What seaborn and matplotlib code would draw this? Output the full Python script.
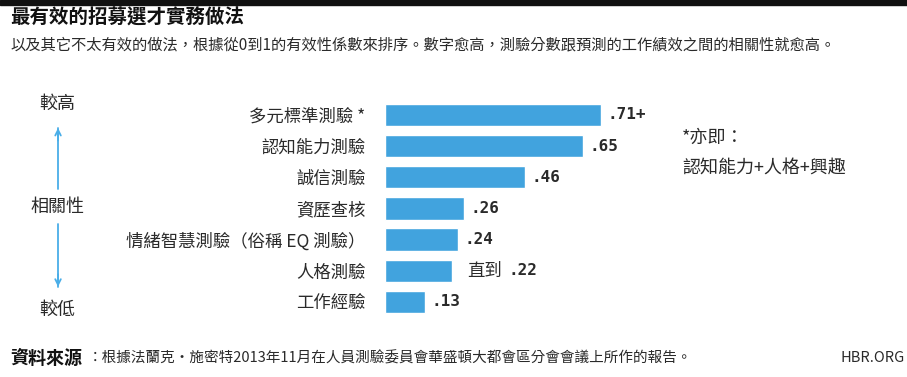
import pandas as pd
import seaborn as sns
import matplotlib.pyplot as plt

# Data
methods = ['多元標準測驗 *', '認知能力測驗', '誠信測驗', '資歷查核',
           '情緒智慧測驗（俗稱 EQ 測驗）', '人格測驗', '工作經驗']
validity = [0.71, 0.65, 0.46, 0.26, 0.24, 0.22, 0.13]
value_text = ['.71+', '.65', '.46', '.26', '.24', '.22', '.13']
value_prefix = ['', '', '', '', '', '直到', '']

df = pd.DataFrame({'method': methods, 'validity': validity})

sns.set_style('white')
plt.rcParams['font.family'] = ['Noto Sans CJK TC', 'DejaVu Sans']

bar_color = '#41a3de'
text_color = '#2a2a2a'

fig = plt.figure(figsize=(9.07, 3.77), dpi=100)
ax = fig.add_axes([0.4245, 0.1576, 0.335, 0.579])

sns.barplot(data=df, x='validity', y='method', orient='h', color=bar_color,
            width=0.72, saturation=1, ax=ax)
ax.set_xlim(0, 1)
ax.set_xlabel('')
ax.set_ylabel('')
ax.set_xticks([])
sns.despine(ax=ax, left=True, bottom=True)
ax.tick_params(axis='y', length=0, pad=14, labelsize=12.5, labelcolor=text_color)

# value labels
for i, (v, t, p) in enumerate(zip(validity, value_text, value_prefix)):
    off = 5
    if p:
        ax.annotate(p, (v, i), xytext=(11, 0), textcoords='offset points',
                    va='center', ha='left', fontsize=12.5, color=text_color)
        off = 41
    ax.annotate(t, (v, i), xytext=(off, 0), textcoords='offset points',
                va='center', ha='left', fontsize=11.5, fontweight='bold',
                color=text_color, family=['DejaVu Sans Mono', 'Noto Sans CJK TC'])

# top black band
fig.patches.append(plt.Rectangle((0, 0.988), 1, 0.012, transform=fig.transFigure,
                                 color='#111111', zorder=10))

# title and subtitle
fig.text(0.011, 0.952, '最有效的招募選才實務做法', fontsize=14, fontweight='bold',
         color='#111111', va='center')
fig.text(0.011, 0.882, '以及其它不太有效的做法，根據從0到1的有效性係數來排序。數字愈高，測驗分數跟預測的工作績效之間的相關性就愈高。',
         fontsize=11, color=text_color, va='center')

# left scale annotation
arrow_color = '#4aaee8'
fig.text(0.063, 0.724, '較高', fontsize=13, color=text_color, ha='center', va='center')
fig.text(0.063, 0.451, '相關性', fontsize=13, color=text_color, ha='center', va='center')
fig.text(0.063, 0.178, '較低', fontsize=13, color=text_color, ha='center', va='center')
fig.add_artist(plt.Line2D([0.064, 0.064], [0.50, 0.66], color=arrow_color, lw=1.3))
fig.add_artist(plt.Line2D([0.064, 0.064], [0.405, 0.24], color=arrow_color, lw=1.3))
ax.annotate('', xy=(0.064, 0.668), xytext=(0.064, 0.62), xycoords='figure fraction',
            arrowprops=dict(arrowstyle='->', color=arrow_color, lw=1.3))
ax.annotate('', xy=(0.064, 0.232), xytext=(0.064, 0.28), xycoords='figure fraction',
            arrowprops=dict(arrowstyle='->', color=arrow_color, lw=1.3))

# footnote on the right
fig.text(0.752, 0.634, '*亦即：', fontsize=13, color=text_color, va='center')
fig.text(0.752, 0.554, '認知能力+人格+興趣', fontsize=13, color=text_color, va='center')

# source line
fig.text(0.011, 0.05, '資料來源', fontsize=13, fontweight='bold', color='#111111', va='center')
fig.text(0.097, 0.05, '：根據法蘭克•施密特2013年11月在人員測驗委員會華盛頓大都會區分會會議上所作的報告。',
         fontsize=10.5, color=text_color, va='center')
fig.text(0.997, 0.05, 'HBR.ORG', fontsize=10.5, color=text_color, va='center', ha='right')

fig.savefig('out.png', dpi=100)
